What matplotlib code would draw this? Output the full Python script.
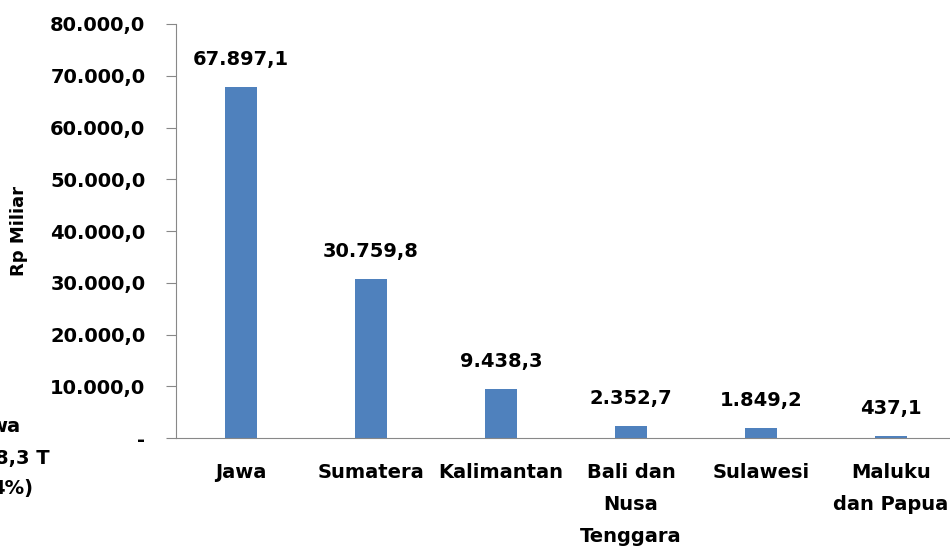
import numpy as np
import matplotlib.pyplot as plt
from matplotlib.ticker import FuncFormatter

regions = ['Jawa', 'Sumatera', 'Kalimantan', 'Bali dan\nNusa\nTenggara', 'Sulawesi', 'Maluku\ndan Papua']
values = [67897.1, 30759.8, 9438.3, 2352.7, 1849.2, 437.1]
value_labels = ['67.897,1', '30.759,8', '9.438,3', '2.352,7', '1.849,2', '437,1']
side_lines = ['wa', '8,3 T', '4%)']

plt.rcParams['font.family'] = ['DejaVu Sans']
plt.rcParams['font.weight'] = 'bold'
fs = 14

fig = plt.figure(figsize=(9.5, 5.48), dpi=100)
ax = fig.add_axes([176 / 950, 1 - 438 / 548, 780 / 950, (438 - 24) / 548])

x = np.arange(len(regions))
ax.bar(x, values, width=0.25, color='#4f81bd')
for xi, v, lab in zip(x, values, value_labels):
    ax.annotate(lab, (xi, v), xytext=(0, 13), textcoords='offset points',
                ha='center', va='bottom', fontsize=fs, fontweight='bold')

ax.set_xlim(-0.5, len(regions) - 0.5)
ax.set_ylim(0, 80000)
ax.set_yticks(np.arange(0, 80001, 10000))


def fmt(v, pos):
    if v == 0:
        return '-'
    return f'{v:,.1f}'.replace(',', 'X').replace('.', ',').replace('X', '.')


ax.yaxis.set_major_formatter(FuncFormatter(fmt))
ax.set_xticks(x)
ax.set_xticklabels(regions, fontsize=fs, fontweight='bold', va='top', linespacing=1.85)
ax.tick_params(axis='x', length=0, pad=18)
ax.tick_params(axis='y', direction='out', length=7, color='#888888', labelsize=fs, pad=15)
for lbl in ax.get_yticklabels():
    lbl.set_fontweight('bold')

for s in ['top', 'right']:
    ax.spines[s].set_visible(False)
ax.spines['left'].set_color('#888888')
ax.spines['bottom'].set_color('#888888')

ax.set_ylabel('Rp Miliar', fontsize=13, fontweight='bold')
ax.yaxis.set_label_coords(-148 / 780, 0.5)

# fragments of a text box cut off at the left edge
side_right = [20, 50, 33]
side_base = [432, 464, 494]
for t, r, b in zip(side_lines, side_right, side_base):
    fig.text(r / 950, 1 - b / 548, t, ha='right', va='baseline', fontsize=fs, fontweight='bold')

fig.savefig('out.png', dpi=100)
